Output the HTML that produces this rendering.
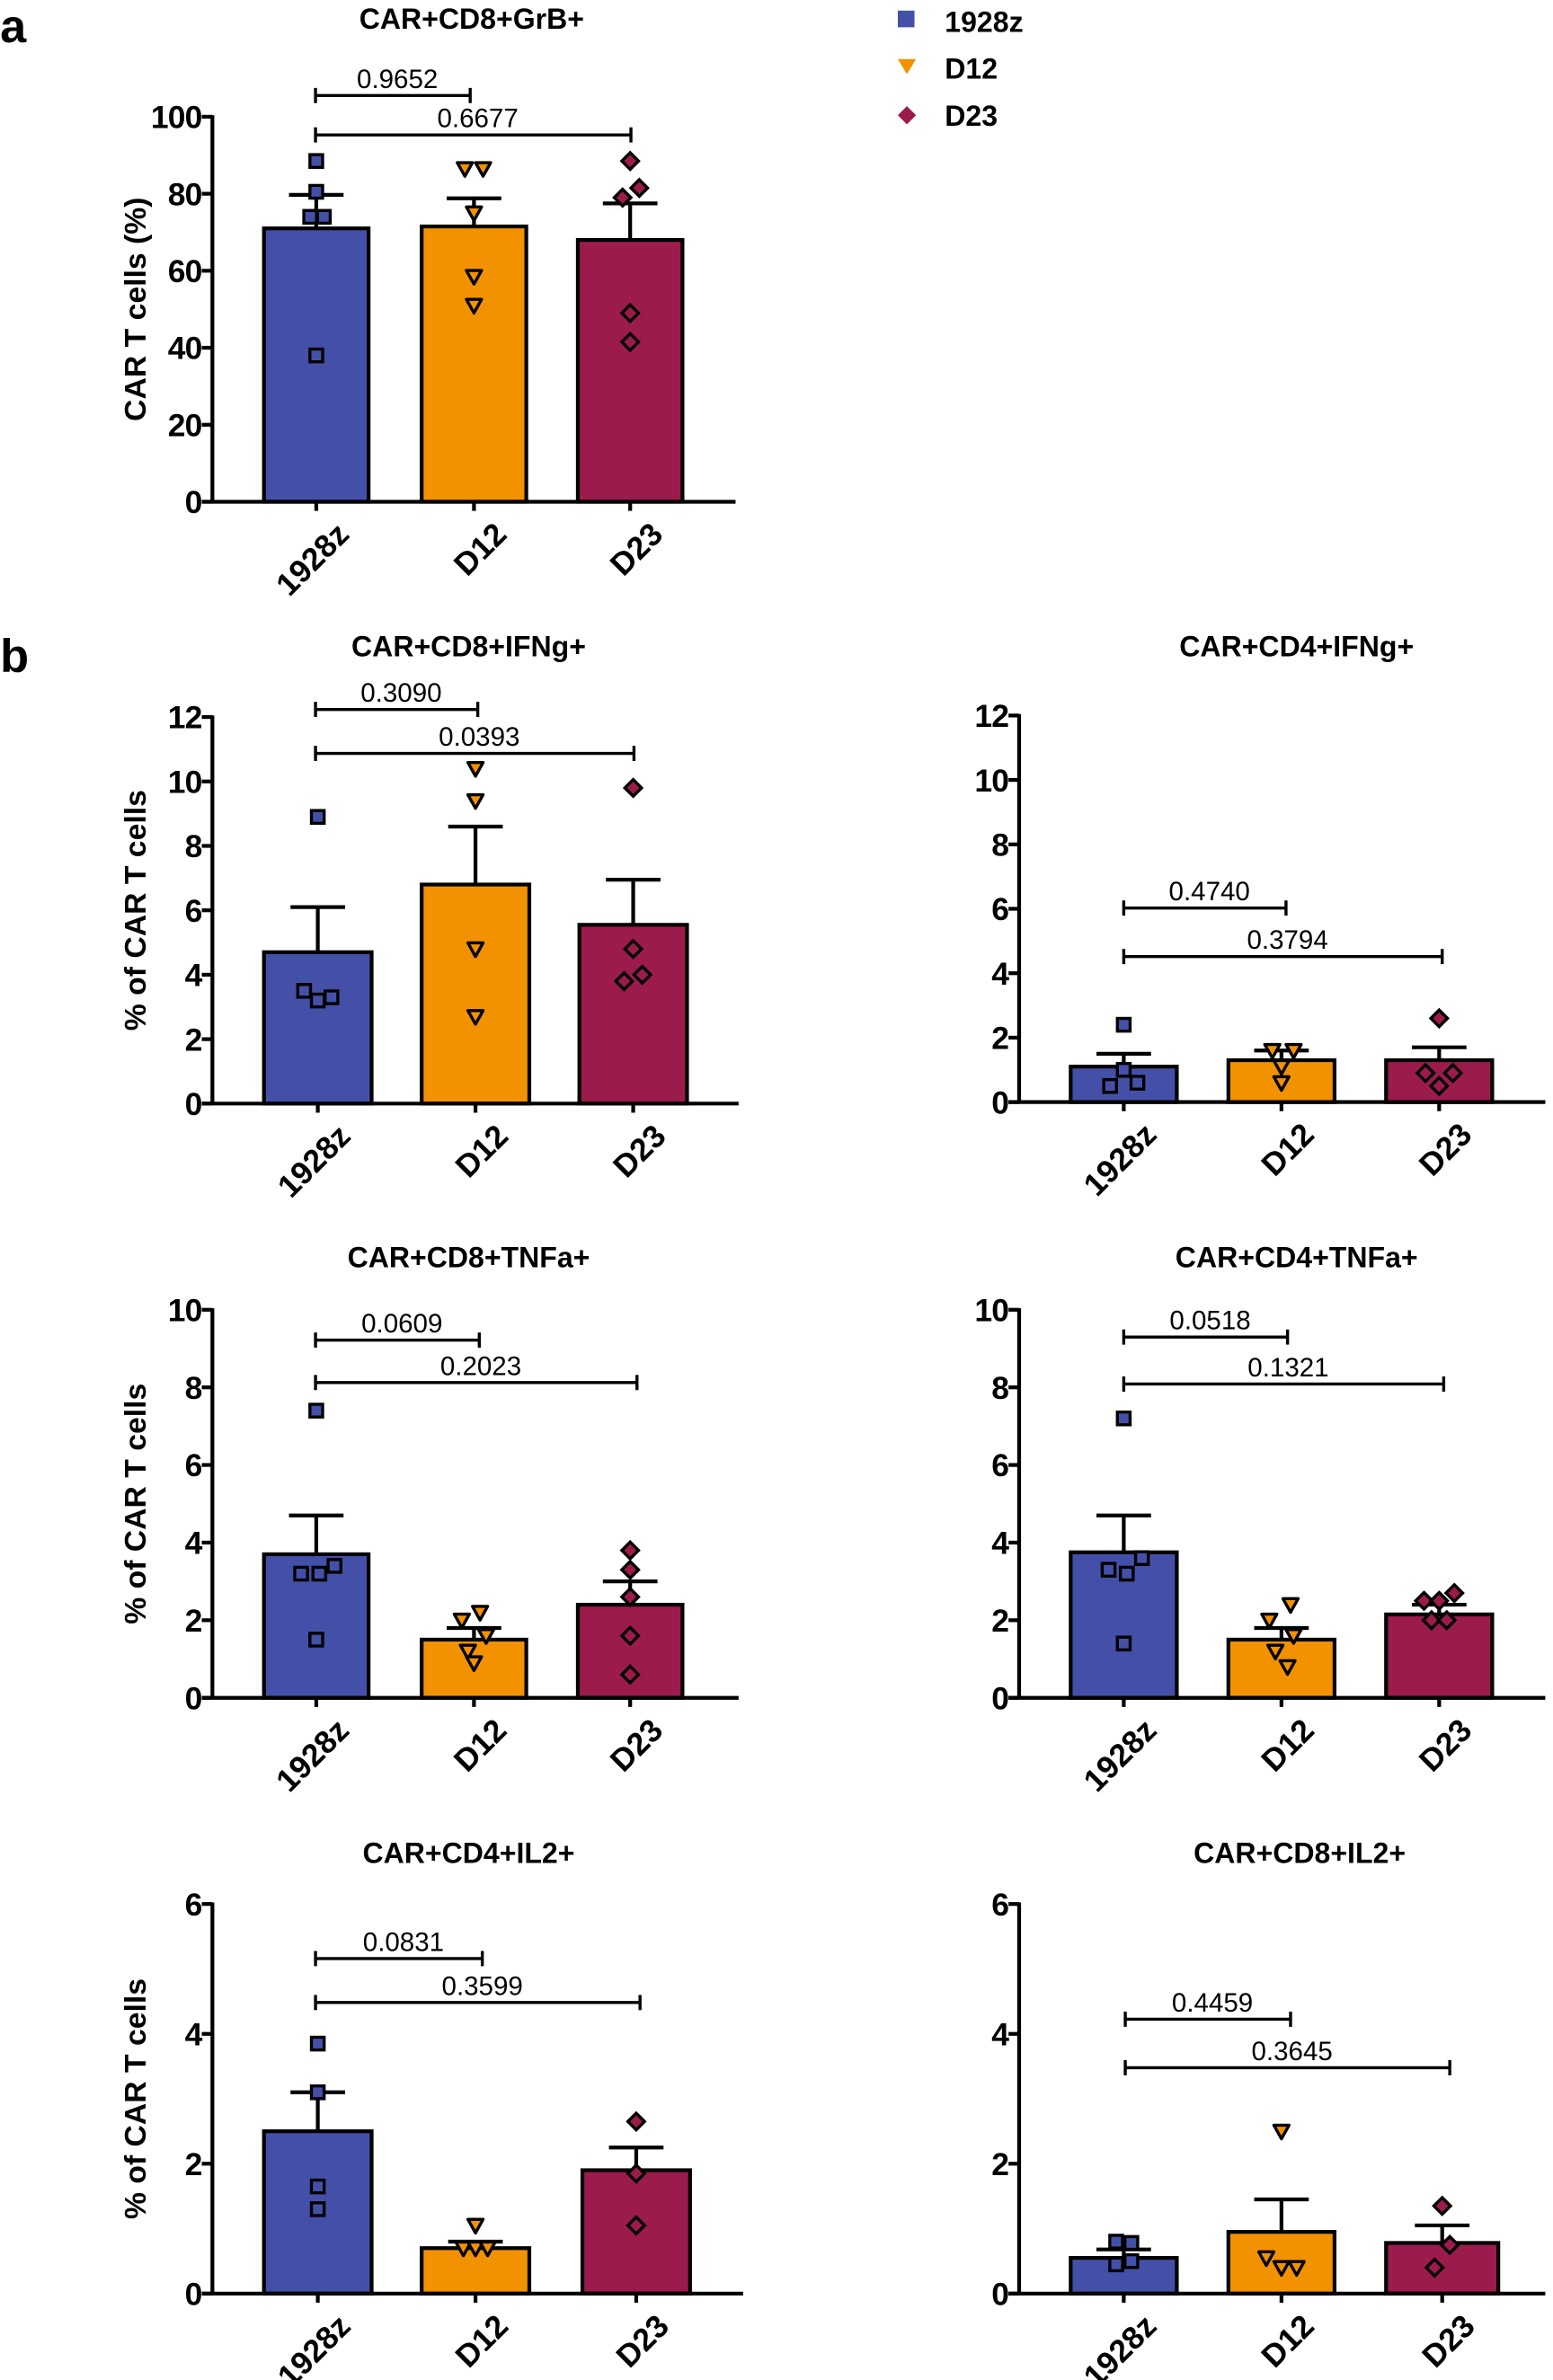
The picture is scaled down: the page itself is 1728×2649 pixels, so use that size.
<!DOCTYPE html>
<html><head><meta charset="utf-8"><style>
html,body{margin:0;padding:0;background:#fff}
svg{display:block}
text{font-family:"Liberation Sans",Arial,sans-serif}
</style></head><body>
<svg id="s" width="1728" height="2649" viewBox="0 0 1024 1570" xmlns="http://www.w3.org/2000/svg">
<text x="0" y="28" font-size="31" font-weight="bold">a</text>
<text x="0" y="443" font-size="31" font-weight="bold">b</text>
<rect x="592" y="7" width="11" height="11" fill="#4450a8"/>
<text x="623" y="21" font-size="19" font-weight="bold">1928z</text>
<path d="M592,39 L604,39 L598,49 Z" fill="#f39200"/>
<text x="623" y="52" font-size="19" font-weight="bold">D12</text>
<path d="M598,70 L604,76 L598,82 L592,76 Z" fill="#9b1b4d"/>
<text x="623" y="83" font-size="19" font-weight="bold">D23</text>
</svg>
<script>
var S=document.getElementById('s'),NS='http://www.w3.org/2000/svg';
function el(t,a,txt){var e=document.createElementNS(NS,t);for(var k in a)e.setAttribute(k,a[k]);if(txt!==undefined)e.textContent=txt;S.appendChild(e);return e;}
var C=['#4450a8','#f39200','#9b1b4d'];
function marker(i,x,y){var s=4.2;
 if(i==0) el('rect',{x:x-s,y:y-s,width:2*s,height:2*s,fill:C[0],stroke:'#000','stroke-width':2});
 else if(i==1) el('path',{d:'M'+(x-5)+','+(y-4)+' L'+(x+5)+','+(y-4)+' L'+x+','+(y+5)+' Z',fill:C[1],stroke:'#000','stroke-width':2,'stroke-linejoin':'round'});
 else el('path',{d:'M'+x+','+(y-5.5)+' L'+(x+5.5)+','+y+' L'+x+','+(y+5.5)+' L'+(x-5.5)+','+y+' Z',fill:C[2],stroke:'#000','stroke-width':2});}
function chart(o){
 var ax=o.ax,y0=o.y0,y1=o.y1,max=o.max,step=o.step;
 function Y(v){return y0-(y0-y1)*v/max;}
 el('text',{x:o.tx,y:o.ty,'font-size':19,'font-weight':'bold','text-anchor':'middle'},o.title);
 el('text',{transform:'translate('+o.lx+','+((y0+y1)/2)+') rotate(-90)','font-size':20,'font-weight':'bold','text-anchor':'middle'},o.ylab);
 for(var v=0;v<=max+1e-9;v+=step){var y=Y(v);el('line',{x1:ax-7,x2:ax,y1:y,y2:y,stroke:'#000','stroke-width':2.5});
  el('text',{x:ax-7,y:y+7.5,'font-size':21,'font-weight':'bold','text-anchor':'end','letter-spacing':'-0.5'},String(v));}
 for(var i=0;i<3;i++){var b=o.bars[i],cx=(b[0]+b[1])/2;
  el('line',{x1:cx,x2:cx,y1:Y(b[3]),y2:Y(b[2]),stroke:'#000','stroke-width':2.5});
  el('line',{x1:cx-18,x2:cx+18,y1:Y(b[3]),y2:Y(b[3]),stroke:'#000','stroke-width':2.5});
  el('rect',{x:b[0],y:Y(b[2]),width:b[1]-b[0],height:y0-Y(b[2]),fill:C[i],stroke:'#000','stroke-width':2.5});
  el('line',{x1:cx,x2:cx,y1:y0,y2:y0+6,stroke:'#000','stroke-width':2.5});
  var lab=['1928z','D12','D23'][i];
  el('text',{transform:'translate('+(cx+12)+','+(y0+12)+') rotate(-45)','font-size':21,'font-weight':'bold','text-anchor':'end','dominant-baseline':'hanging'},lab);
  o.pts[i].forEach(function(p){marker(i,cx+p[0],Y(p[1]));});}
 el('line',{x1:ax,x2:ax,y1:y1-1,y2:y0,stroke:'#000','stroke-width':2.5});
 el('line',{x1:ax-7,x2:o.xe,y1:y0,y2:y0,stroke:'#000','stroke-width':2.5});
 o.br.forEach(function(b){el('line',{x1:b[1],x2:b[2],y1:b[0],y2:b[0],stroke:'#000','stroke-width':2});
  el('line',{x1:b[1],x2:b[1],y1:b[0]-5,y2:b[0]+5,stroke:'#000','stroke-width':2});
  el('line',{x1:b[2],x2:b[2],y1:b[0]-5,y2:b[0]+5,stroke:'#000','stroke-width':2});
  el('text',{x:(b[1]+b[2])/2+3,y:b[0]-5,'font-size':17.5,'text-anchor':'middle'},b[3]);});
}
var L=[[174,243],[278,347],[381,450]],R=[[706,776],[810,880],[914,984]];
function bars(X,v,e){return X.map(function(x,i){return [x[0],x[1],v[i],e[i]];});}
chart({ax:140,y0:331,y1:77,max:100,step:20,xe:485,tx:311,ty:19,lx:96,title:'CAR+CD8+GrB+',ylab:'CAR T cells (%)',
 bars:bars(L,[71,71.5,68],[79.7,78.8,77.5]),
 pts:[[[0,88.5],[0,80.5],[-4,74],[5,74],[0,38]],[[-6,86.5],[6,86.5],[0,75],[0,58.5],[0,51]],[[0,88.5],[6,81.5],[-5,79],[0,49],[0,41.5]]],
 br:[[63,208,310,'0.9652'],[89,208,416,'0.6677']]});
chart({ax:140,y0:728,y1:473,max:12,step:2,xe:487,tx:309,ty:433,lx:96,title:'CAR+CD8+IFNg+',ylab:'% of CAR T cells',
 bars:bars([[174,245],[278,349],[382,453]],[4.7,6.8,5.55],[6.1,8.6,6.95]),
 pts:[[[0,8.9],[-9,3.5],[0,3.2],[9,3.3]],[[0,10.4],[0,9.4],[0,4.8],[0,2.7]],[[0,9.8],[0,4.8],[-6,3.8],[6,4.0]]],
 br:[[468,208,315,'0.3090'],[497,208,418,'0.0393']]});
chart({ax:672,y0:727,y1:472,max:12,step:2,xe:1019,tx:855,ty:433,lx:628,title:'CAR+CD4+IFNg+',ylab:'',
 bars:bars(R,[1.1,1.3,1.3],[1.5,1.6,1.7]),
 pts:[[[0,2.4],[-9,0.5],[9,0.6],[0,1.0]],[[-6,1.6],[8,1.6],[0,1.1],[0,0.6]],[[0,2.6],[-9,0.9],[9,0.9],[0,0.5]]],
 br:[[599,741,848,'0.4740'],[631,741,951,'0.3794']]});
chart({ax:140,y0:1120,y1:864,max:10,step:2,xe:487,tx:309,ty:836,lx:96,title:'CAR+CD8+TNFa+',ylab:'% of CAR T cells',
 bars:bars(L,[3.7,1.5,2.4],[4.7,1.8,3.0]),
 pts:[[[0,7.4],[-10,3.2],[2,3.2],[12,3.4],[0,1.5]],[[4,2.2],[-8,2.0],[8,1.6],[-4,1.2],[0,0.9]],[[0,3.8],[0,3.3],[0,2.6],[0,1.6],[0,0.6]]],
 br:[[884,208,316,'0.0609'],[912,208,420,'0.2023']]});
chart({ax:672,y0:1120,y1:864,max:10,step:2,xe:1019,tx:855,ty:836,lx:628,title:'CAR+CD4+TNFa+',ylab:'',
 bars:bars(R,[3.75,1.5,2.15],[4.7,1.8,2.4]),
 pts:[[[0,7.2],[-10,3.3],[2,3.2],[12,3.6],[0,1.4]],[[6,2.4],[-8,2.0],[8,1.6],[-4,1.2],[4,0.8]],[[-10,2.5],[0,2.5],[10,2.7],[-5,2.0],[5,2.0]]],
 br:[[882,741,849,'0.0518'],[913,741,952,'0.1321']]});
chart({ax:140,y0:1513,y1:1256,max:6,step:2,xe:490,tx:309,ty:1229,lx:96,title:'CAR+CD4+IL2+',ylab:'% of CAR T cells',
 bars:bars([[174,245],[278,349],[384,455]],[2.5,0.7,1.9],[3.1,0.8,2.25]),
 pts:[[[0,3.85],[0,3.1],[0,1.65],[0,1.3]],[[0,1.05],[-8,0.7],[0,0.7],[8,0.7]],[[0,2.65],[0,1.85],[0,1.05]]],
 br:[[1292,208,318,'0.0831'],[1321,208,422,'0.3599']]});
chart({ax:672,y0:1513,y1:1256,max:6,step:2,xe:1019,tx:857,ty:1229,lx:628,title:'CAR+CD8+IL2+',ylab:'',
 bars:bars([[706,776],[810,880],[914,988]],[0.55,0.95,0.78],[0.68,1.45,1.05]),
 pts:[[[-5,0.8],[5,0.78],[-5,0.45],[5,0.5]],[[0,2.5],[-10,0.55],[0,0.4],[10,0.4]],[[0,1.35],[5,0.75],[-5,0.4]]],
 br:[[1332,742,851,'0.4459'],[1364,742,956,'0.3645']]});
</script>
</body></html>
